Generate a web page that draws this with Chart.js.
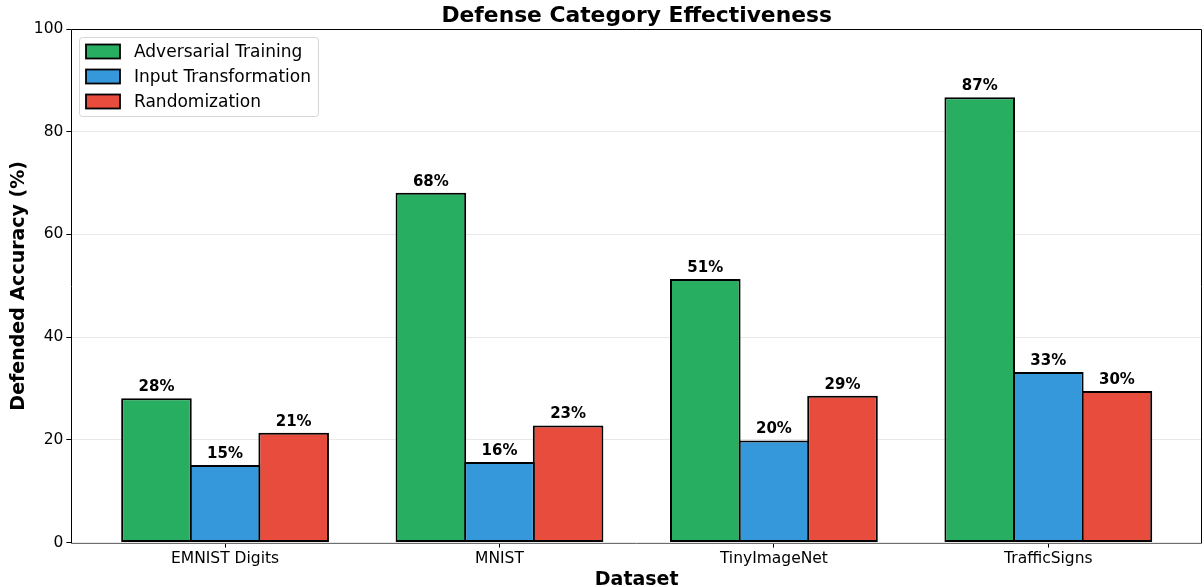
<!DOCTYPE html>
<html>
<head>
<meta charset="utf-8">
<script src="https://cdn.jsdelivr.net/npm/chart.js@4/dist/chart.umd.min.js"></script>
<style>
  html, body { margin: 0; padding: 0; background: #ffffff; }
  #wrap { width: 1204px; height: 587px; position: relative; }
</style>
</head>
<body>
<div id="wrap"><canvas id="chart" width="1204" height="587"></canvas></div>
<script>
// Datasets along the x axis
const categories = ['EMNIST Digits', 'MNIST', 'TinyImageNet', 'TrafficSigns'];

// Defended accuracy (%) per defense category
const adversarialTraining = [28.1, 68.1, 51.3, 86.7];
const inputTransformation = [15.1, 15.7, 19.9, 33.2];
const randomization = [21.4, 22.8, 28.6, 29.5];

const seriesNames = ['Adversarial Training', 'Input Transformation', 'Randomization'];
const seriesColors = ['#27ae60', '#3498db', '#e74c3c'];

const yTicks = [0, 20, 40, 60, 80, 100];

const chartTitle = 'Defense Category Effectiveness';

const FONT = "'DejaVu Sans', 'Liberation Sans', sans-serif";

function toPoints(values) {
  return values.map((v, i) => ({ x: i, y: v }));
}

// Title centred over the plot area
const plotTitlePlugin = {
  id: 'plotTitle',
  afterDraw(chart) {
    const { ctx, chartArea: a } = chart;
    ctx.save();
    ctx.font = 'bold 21.8px ' + FONT;
    ctx.fillStyle = '#000';
    ctx.textAlign = 'center';
    ctx.textBaseline = 'middle';
    ctx.fillText(chartTitle, (a.left + a.right) / 2, a.top - 13);
    ctx.restore();
  }
};

// Spines around the plot area
const framePlugin = {
  id: 'frame',
  afterDatasetsDraw(chart) {
    const { ctx, chartArea: a } = chart;
    const l = Math.round(a.left) + 0.5, r = Math.round(a.right) - 0.5;
    const t = Math.round(a.top) + 0.5, b = Math.round(a.bottom) + 0.5;
    ctx.save();
    ctx.lineWidth = 1;
    ctx.strokeStyle = '#000';
    ctx.beginPath();
    ctx.moveTo(l, b); ctx.lineTo(l, t); ctx.lineTo(r, t); ctx.lineTo(r, b);
    ctx.stroke();
    ctx.strokeStyle = '#6e6e6e';
    ctx.beginPath();
    ctx.moveTo(l, b); ctx.lineTo(r, b);
    ctx.stroke();
    ctx.restore();
  }
};

// Percentage labels above each bar
const valueLabelPlugin = {
  id: 'valueLabels',
  afterDatasetsDraw(chart) {
    const { ctx } = chart;
    ctx.save();
    ctx.font = 'bold 15px ' + FONT;
    ctx.fillStyle = '#000';
    ctx.textAlign = 'center';
    ctx.textBaseline = 'alphabetic';
    chart.data.datasets.forEach((ds, di) => {
      const meta = chart.getDatasetMeta(di);
      meta.data.forEach((bar, i) => {
        const v = ds.data[i].y;
        ctx.fillText(Math.round(v) + '%', bar.x, bar.y - 7);
      });
    });
    ctx.restore();
  }
};

// Legend box in the upper-left corner of the plot area
const legendBoxPlugin = {
  id: 'legendBox',
  afterDraw(chart) {
    const { ctx, chartArea: a } = chart;
    const ds = chart.data.datasets;
    ctx.save();
    ctx.font = '17px ' + FONT;
    const x0 = Math.round(a.left) + 8.5, y0 = Math.round(a.top) + 8.5;
    const rowH = 25;
    let maxW = 0;
    ds.forEach(d => { maxW = Math.max(maxW, ctx.measureText(d.label).width); });
    const w = 7 + 34 + 14 + maxW + 7;
    const h = 79;
    const r = 3;
    ctx.beginPath();
    ctx.moveTo(x0 + r, y0);
    ctx.lineTo(x0 + w - r, y0); ctx.quadraticCurveTo(x0 + w, y0, x0 + w, y0 + r);
    ctx.lineTo(x0 + w, y0 + h - r); ctx.quadraticCurveTo(x0 + w, y0 + h, x0 + w - r, y0 + h);
    ctx.lineTo(x0 + r, y0 + h); ctx.quadraticCurveTo(x0, y0 + h, x0, y0 + h - r);
    ctx.lineTo(x0, y0 + r); ctx.quadraticCurveTo(x0, y0, x0 + r, y0);
    ctx.closePath();
    ctx.fillStyle = 'rgba(255,255,255,0.85)';
    ctx.fill();
    ctx.strokeStyle = '#d6d6d6';
    ctx.lineWidth = 1;
    ctx.stroke();
    ds.forEach((d, i) => {
      const cy = y0 + 14 + i * rowH;
      ctx.fillStyle = d.backgroundColor;
      ctx.fillRect(x0 + 6.5, cy - 7, 34, 14);
      ctx.strokeStyle = '#000';
      ctx.lineWidth = 1.8;
      ctx.strokeRect(x0 + 6.5, cy - 7, 34, 14);
      ctx.fillStyle = '#000';
      ctx.textAlign = 'left';
      ctx.textBaseline = 'middle';
      ctx.fillText(d.label, x0 + 54.5, cy + 1);
    });
    ctx.restore();
  }
};

const seriesValues = [adversarialTraining, inputTransformation, randomization];

new Chart(document.getElementById('chart'), {
  type: 'bar',
  data: {
    datasets: seriesValues.map((vals, i) => ({
      label: seriesNames[i],
      data: toPoints(vals),
      backgroundColor: seriesColors[i],
      borderColor: '#000',
      borderWidth: 2,
      borderSkipped: false,
      categoryPercentage: 0.75,
      barPercentage: 1.029
    }))
  },
  options: {
    responsive: false,
    animation: false,
    layout: { padding: { left: 0, right: 2, top: 29, bottom: -4 } },
    plugins: {
      legend: { display: false },
      tooltip: { enabled: false },
      title: { display: false }
    },
    scales: {
      x: {
        type: 'linear',
        min: -0.56,
        max: 3.56,
        offset: false,
        afterBuildTicks(scale) {
          scale.ticks = categories.map((_, i) => ({ value: i }));
        },
        ticks: {
          autoSkip: false,
          maxRotation: 0,
          color: '#000',
          font: { family: FONT, size: 15.5 },
          padding: 2,
          callback: (v) => categories[v]
        },
        grid: {
          display: true,
          offset: false,
          drawOnChartArea: false,
          drawTicks: true,
          tickLength: 5,
          color: '#000'
        },
        border: { display: false },
        title: {
          display: true,
          text: 'Dataset',
          color: '#000',
          font: { family: FONT, size: 19, weight: 'bold' },
          padding: { top: -2, bottom: 0 }
        }
      },
      y: {
        min: 0,
        max: 100,
        z: 1,
        afterBuildTicks(scale) {
          scale.ticks = yTicks.map(v => ({ value: v }));
        },
        ticks: {
          color: '#000',
          font: { family: FONT, size: 15.5 },
          padding: 3
        },
        grid: {
          color: 'rgba(0,0,0,0.09)',
          lineWidth: 1,
          tickLength: 5,
          tickColor: '#000',
          drawTicks: true
        },
        border: { display: false },
        title: {
          display: true,
          text: 'Defended Accuracy (%)',
          color: '#000',
          font: { family: FONT, size: 19, weight: 'bold' },
          padding: { top: 8, bottom: 0 }
        }
      }
    }
  },
  plugins: [framePlugin, valueLabelPlugin, legendBoxPlugin, plotTitlePlugin]
});
</script>
</body>
</html>
